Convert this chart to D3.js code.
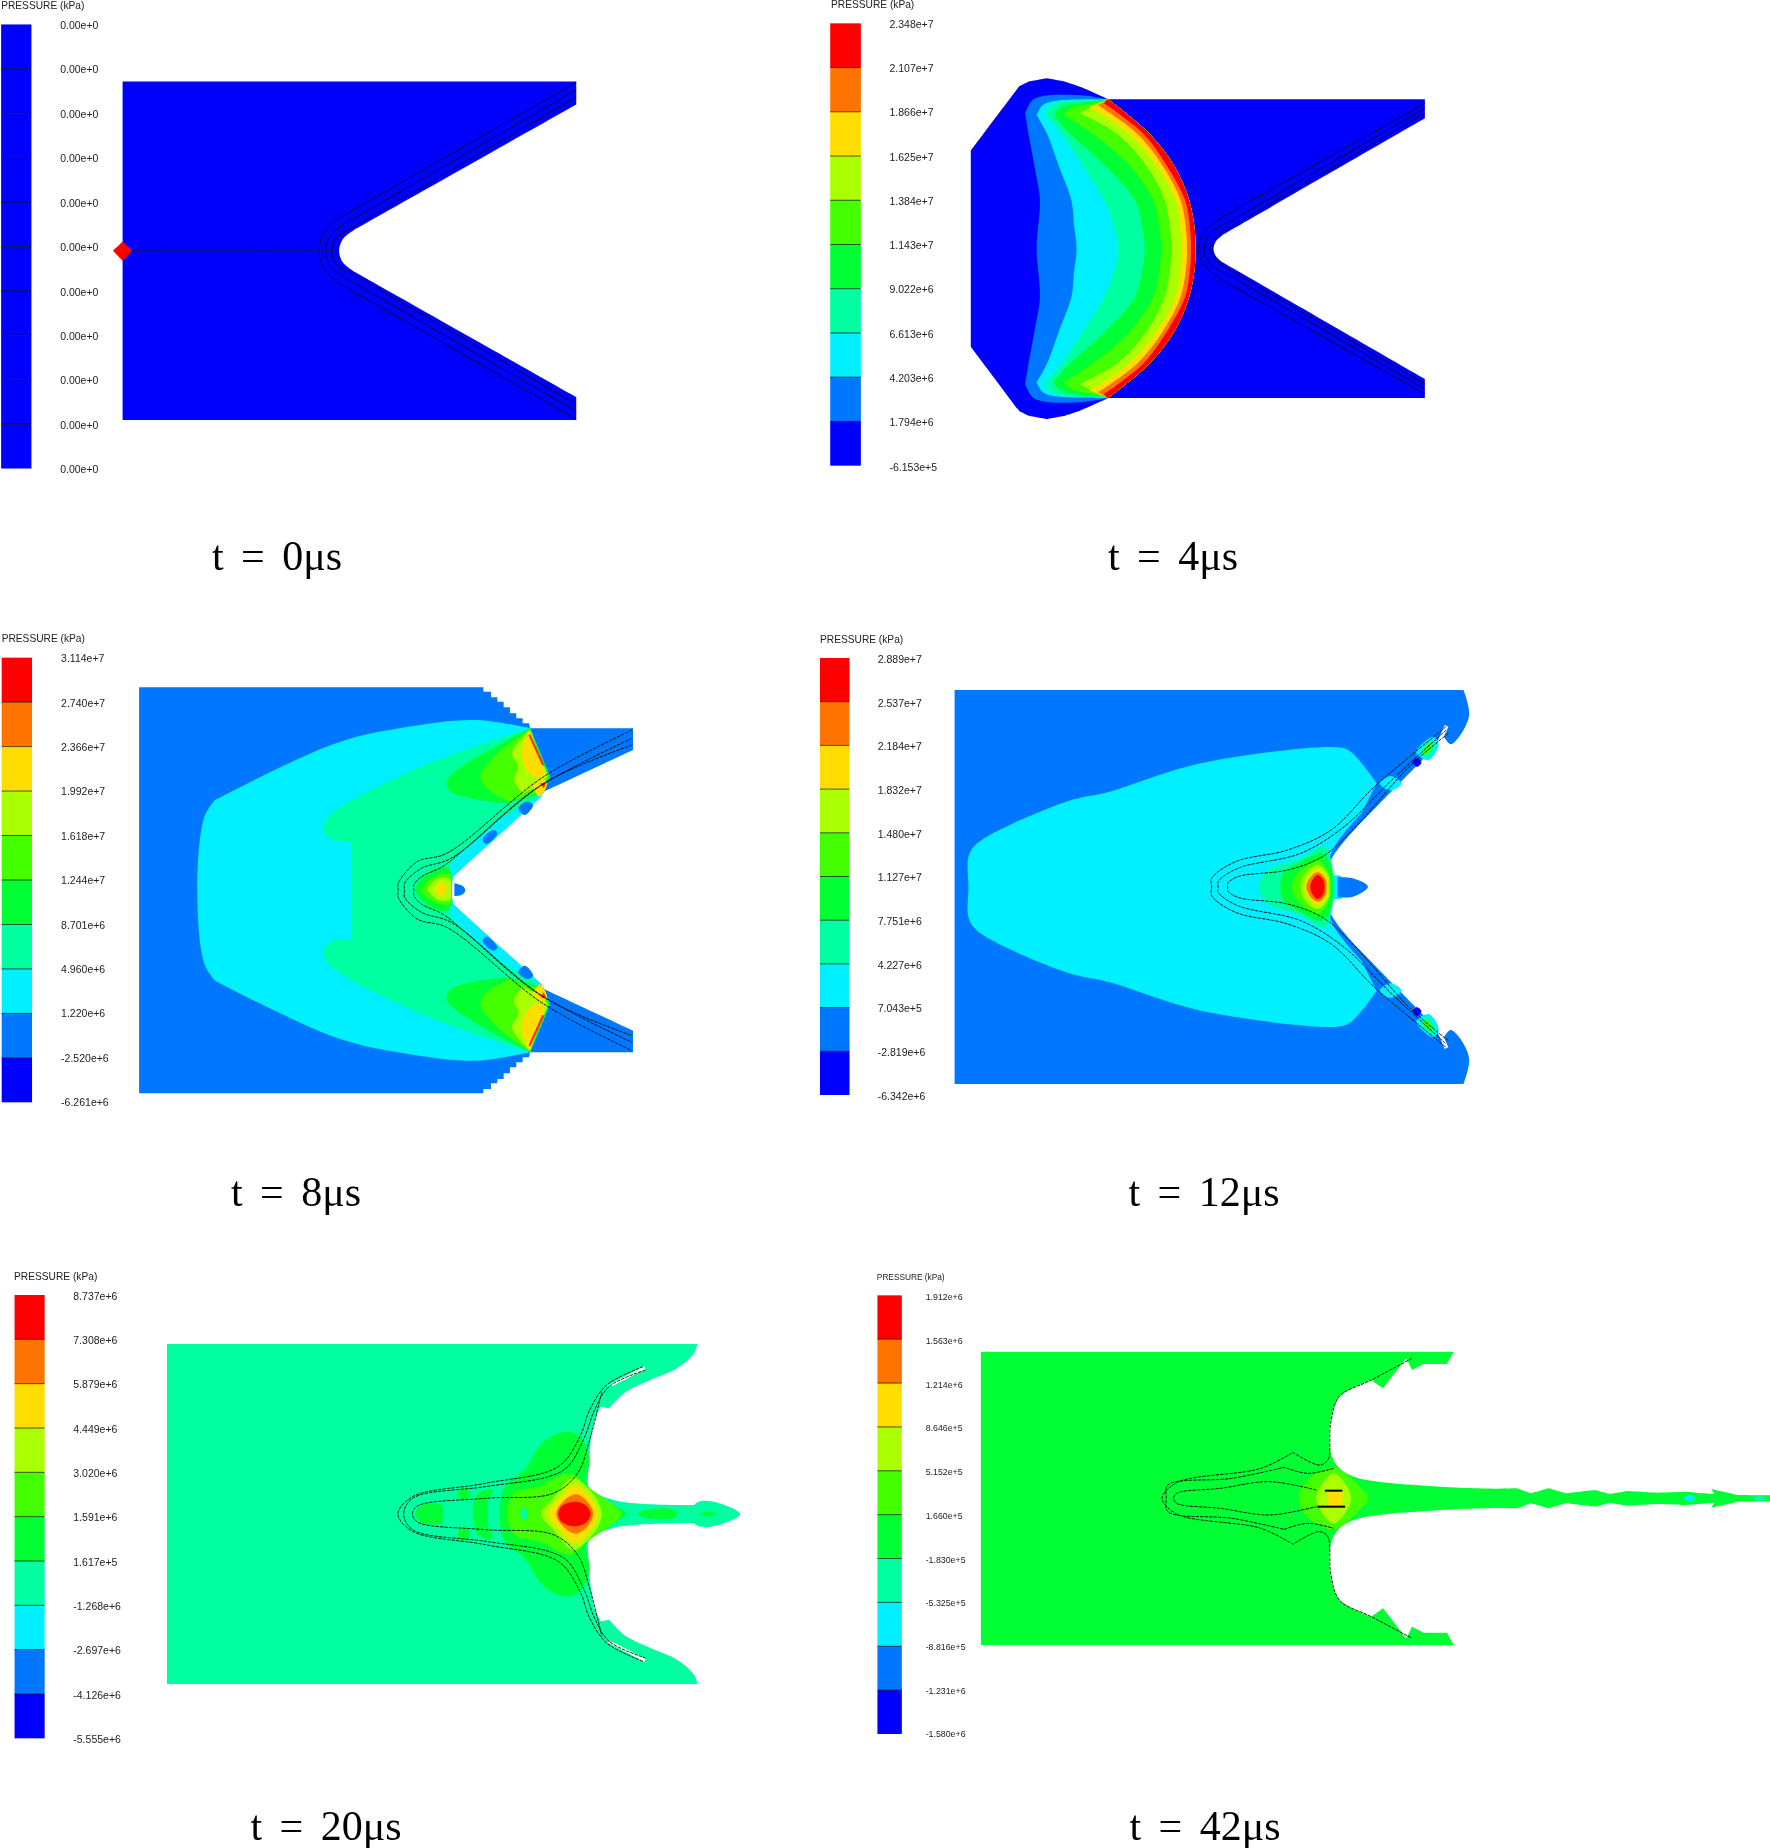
<!DOCTYPE html>
<html><head><meta charset="utf-8">
<script src="https://cdn.jsdelivr.net/npm/d3@7"></script>
<style>html,body{margin:0;background:#fff}svg{display:block}</style></head>
<body><svg id="c" width="1770" height="1848"></svg>
<script>
// Legend bands, top to bottom
const bandColors = ["#ff0000","#ff7300","#ffdd00","#aaff00","#44ff00","#00ff33","#00ffa0","#00f0ff","#0077ff","#0000ff"];
const R=0,O=1,Y=2,L=3,G1=4,G2=5,T=6,C=7,B2=8,B=9;
const labels0  = Array(11).fill("0.00e+0");
const labels4  = ["2.348e+7","2.107e+7","1.866e+7","1.625e+7","1.384e+7","1.143e+7","9.022e+6","6.613e+6","4.203e+6","1.794e+6","-6.153e+5"];
const labels8  = ["3.114e+7","2.740e+7","2.366e+7","1.992e+7","1.618e+7","1.244e+7","8.701e+6","4.960e+6","1.220e+6","-2.520e+6","-6.261e+6"];
const labels12 = ["2.889e+7","2.537e+7","2.184e+7","1.832e+7","1.480e+7","1.127e+7","7.751e+6","4.227e+6","7.043e+5","-2.819e+6","-6.342e+6"];
const labels20 = ["8.737e+6","7.308e+6","5.879e+6","4.449e+6","3.020e+6","1.591e+6","1.617e+5","-1.268e+6","-2.697e+6","-4.126e+6","-5.555e+6"];
const labels42 = ["1.912e+6","1.563e+6","1.214e+6","8.646e+5","5.152e+5","1.660e+5","-1.830e+5","-5.325e+5","-8.816e+5","-1.231e+6","-1.580e+6"];
const captions = ["t = 0μs","t = 4μs","t = 8μs","t = 12μs","t = 20μs","t = 42μs"];
const title = "PRESSURE (kPa)";

// Half contours; [x,y,1] marks a sharp corner
const outer0 = [[320,677],[320,220,1],[1504,220,1],[1504,282,1],[925,620,1],[895,645],[885,677]];
const wires0 = [
 [[1504,222,1],[880,592,1],[845,630],[833,677]],
 [[1504,243,1],[895,607,1],[860,640],[850,677]],
 [[1504,262,1],[908,622,1],[875,645],[866,677]]];
const rod0 = [[320,677,1],[885,677,1]];
const marker0 = [[295,677,1],[320,652,1],[345,677,1],[320,704,1]];

const arc4 = [[705,298,1],[805,400],[868,500],[903,600],[917,690],[918,746]];
const outer4 = [[369,746],[369,452,1],[488,258,1],[510,245,1],[555,235,1],[600,245,1],[640,262],[705,298,1],[1480,298,1],[1480,355,1],[985,705,1],[968,725],[963,746]];
const bands4 = [
 [B2,[[530,746],[538,600],[525,500],[510,400],[502,340,1],[520,300],[550,287],[650,287]]],
 [C,[[628,746],[622,680],[615,600],[585,500],[555,400],[530,345,1],[545,315],[575,303],[690,298]]],
 [T,[[728,746],[720,680],[695,600],[645,500],[590,400],[550,340,1],[575,310],[690,300]]],
 [G2,[[795,746],[788,680],[770,600],[700,500],[610,400],[572,345,1],[590,320],[690,302]]],
 [G1,[[835,746],[830,680],[815,600],[760,500],[665,400],[597,345,1],[615,325],[690,304]]],
 [L,[[860,746],[856,680],[843,600],[800,500],[725,400],[635,340,1],[690,306]]],
 [Y,[[885,746],[882,680],[870,600],[825,500],[755,400],[660,320,1],[692,306]]],
 [O,[[898,746],[895,680],[882,600],[840,500],[775,400],[680,315,1],[695,305]]],
 [R,[[908,746],[905,680],[893,600],[850,500],[790,400],[695,310,1],[700,302]]]];
const wires4 = [
 [[1480,310,1],[1000,640,1],[945,690],[925,746]],
 [[1480,325,1],[1010,660,1],[955,700],[940,746]],
 [[1480,340,1],[1020,670,1],[970,710],[955,746]]];

const outer8 = [[330,811],[330,202,1],[1147,202,1],[1147,215,1],[1165,215,1],[1165,232,1],[1180,232,1],[1180,245,1],[1195,245,1],[1195,262,1],[1210,262,1],[1210,280,1],[1225,280,1],[1225,295,1],[1240,295,1],[1240,310,1],[1255,310,1],[1258,325,1],[1502,325,1],[1502,390,1],[1290,515,1],[1075,770,1],[1070,811]];
const fill8 = [
 [C,[[468,811],[485,590],[510,540,1],[800,368],[980,318],[1130,300],[1258,325,1],[1305,470,1],[1285,530,1],[1075,770,1],[1072,811]]],
 [T,[[835,811],[835,665,1],[790,660],[768,630],[780,590],[1000,440],[1258,325,1],[1300,470,1],[1275,530],[1190,595],[1065,745],[1060,811]]]];
const lobes8 = [
 [B2,[[1230,565],[1250,545],[1265,555],[1245,585]]],
 [B2,[[1145,660],[1170,630],[1180,640],[1155,672]]],
 [G2,[[1258,325,1],[1060,480],[1070,515],[1200,550,1],[1290,520,1],[1305,470,1]]],
 [G1,[[1250,335,1],[1180,400],[1140,470],[1160,510],[1210,545,1],[1290,510,1],[1300,470,1]]],
 [L,[[1255,330,1],[1215,400],[1230,440],[1220,480],[1240,520,1],[1290,490,1],[1300,465,1]]],
 [Y,[[1258,330,1],[1240,380],[1245,440],[1270,472,1],[1296,470,1]]],
 [Y,[[1265,495],[1285,478],[1298,490],[1280,530]]],
 ["#ff3000",[[1258,342,1],[1292,436,1],[1286,436,1],[1254,346,1]]],
 ["#ff3000",[[1282,490,1],[1296,488,1],[1290,505,1]]]];
const nose8 = [
 [B2,[[1078,790,1],[1100,800],[1104,812],[1095,825],[1078,828,1]]],
 [G2,[[985,808],[1020,755],[1065,745],[1072,808],[1065,870],[1020,860]]],
 [G1,[[1000,808],[1030,770],[1068,762],[1072,808],[1068,852],[1030,846]]],
 [L,[[1015,808],[1040,775],[1068,778],[1070,808],[1068,838],[1040,840]]],
 [Y,[[1033,808],[1047,786],[1060,808],[1047,830]]]];
const wires8 = [
 [[1500,330,1],[1290,470],[1060,700],[990,725],[945,790],[945,811]],
 [[1500,355,1],[1280,500],[1070,715],[1000,745],[960,790],[960,811]],
 [[1500,375,1],[1290,490],[1100,690],[1050,740],[1000,770],[982,795],[982,811]]];

const outer12 = [[333,801],[333,210,1],[1505,210,1],[1518,285],[1495,350],[1475,372],[1460,350,1],[1470,320,1],[1462,315,1],[1440,380,1],[1260,620,1],[1200,720],[1190,801]];
const fill12 = [[C,[[365,801],[365,710],[385,670],[590,545],[690,515],[900,430],[1215,382],[1245,395],[1305,490,1],[1270,580,1],[1200,700],[1195,801]]]];
const jet12 = [[C,[[1195,768,1],[1225,770],[1225,835],[1195,835,1]]],[B2,[[1215,772,1],[1250,775],[1285,800],[1250,830],[1215,832,1]]]];
const spots12 = [
 [C,[[1312,490],[1337,468],[1362,490],[1337,512]]],
 [C,[[1396,398],[1435,350],[1448,372],[1425,420]]],
 [T,[[1405,392],[1432,360],[1440,375],[1420,410]]],
 [G1,[[1412,395],[1428,372],[1432,385],[1420,403]]],
 [B,[[1388,428],[1398,414],[1408,428],[1398,440]]]];
const core12 = [
 [T,[[1035,800],[1050,755],[1130,715],[1185,678],[1200,720],[1205,800]]],
 [G2,[[1083,800],[1090,760],[1130,725],[1180,700],[1200,740],[1205,800]]],
 [G1,[[1110,800],[1120,765],[1170,720],[1195,760],[1200,800]]],
 [L,[[1130,800],[1140,760],[1170,735],[1195,770],[1195,800]]],
 [Y,[[1140,800],[1150,770],[1168,745],[1188,770],[1192,800]]],
 [O,[[1143,800],[1155,768],[1170,757],[1188,780],[1189,800]]],
 [R,[[1152,800],[1158,778],[1169,765],[1182,780],[1185,800]]]];
const wires12 = [
 [[1465,320,1],[1300,500],[1200,630],[1100,690],[980,725],[925,775],[925,801]],
 [[1465,330,1],[1340,480],[1230,620],[1130,700],[985,745],[940,785],[940,801]],
 [[1470,340,1],[1380,440],[1250,630],[1180,710],[1100,750],[985,770],[962,790],[962,801]]];

const outer20 = [[344,762],[344,252,1],[1437,252,1],[1430,280],[1395,325],[1340,360],[1290,395],[1255,445,1],[1238,440,1],[1225,480],[1212,640],[1215,685],[1270,722],[1430,735,1],[1440,725],[1470,725],[1525,762]];
const slit20 = [[1250,378,1],[1328,318,1],[1330,328,1],[1262,378,1]];
const core20 = [
 [G2,[[855,762],[870,735],[910,735],[912,762]]],
 [G2,[[975,762],[985,700],[1015,690],[1005,730],[1005,762]]],
 [G2,[[1030,762],[1040,680],[1080,630],[1120,545],[1165,515],[1195,530],[1215,590],[1210,680],[1265,735],[1290,762]]],
 [G1,[[1045,762],[1060,700],[1110,680],[1175,640],[1210,680],[1260,730],[1280,762]]],
 [T,[[1072,762],[1080,742],[1088,762]]],
 [L,[[1115,762],[1140,715],[1180,655],[1215,690],[1240,762]]],
 [Y,[[1130,762],[1150,720],[1185,675],[1215,710],[1232,762]]],
 [O,[[1146,762],[1160,725],[1187,703],[1213,730],[1222,762]]],
 [R,[[1150,762],[1158,737],[1187,725],[1208,737],[1217,762]]],
 [G2,[[1315,762],[1330,750],[1390,750],[1395,762]]],
 [G2,[[1440,762],[1460,755],[1478,762]]]];
const stripes20 = [[G2,[[945,690],[960,683],[968,715],[948,720]]]];
const wires20 = [
 [[1325,320,1],[1250,375],[1215,450],[1195,530],[1150,620],[1000,670],[850,710],[820,762]],
 [[1330,330,1],[1255,380],[1225,450],[1205,530],[1170,620],[1130,650],[1000,680],[850,715],[832,762]],
 [[1240,395,1],[1215,540],[1190,640],[1140,700],[1000,715],[860,738],[850,762]]];

const outer42 = [[208,715],[208,275,1],[1022,275,1],[1010,312,1],[970,312,1],[950,330,1],[940,295,1],[900,385,1],[880,360,1],[825,410],[810,480],[808,560],[820,615],[850,650],[1000,680],[1100,686,1],[1130,685,1],[1155,700,1],[1185,685,1],[1215,700,1],[1265,690,1],[1290,702,1],[1320,693,1],[1370,698,1],[1420,695,1],[1470,702,1],[1465,687,1],[1510,705,1],[1566,706,1],[1566,715,1]];
const core42 = [
 [G1,[[755,715],[770,660],[815,622],[860,680],[875,715]]],
 [L,[[785,715],[800,660],[815,640],[835,670],[845,715]]],
 [Y,[[805,715],[805,690,1],[830,690,1],[830,715]]]];
const spots42 = [[C,[[1418,715],[1428,705],[1438,715],[1428,725]]],[T,[[1538,715],[1548,707],[1558,715],[1548,723]]]];
const wires42 = [
 [[950,295,1],[880,360],[825,410],[810,490],[805,600],[790,615],[745,577,1],[690,625],[545,668],[520,715]],
 [[815,625],[770,640],[730,622,1],[640,655],[530,675],[527,715]],
 [[785,690],[705,665],[620,685],[545,700],[540,715]]];
const bars42 = [[[800,692,1],[830,692,1]],[[787,740,1],[835,740,1]]];

// Panel layout: crop window of the read-off coordinates, legend placement
const svg = d3.select("#c");
const field = svg.append("g").style("filter","blur(0.55px)");
const legends = svg.append("g").style("filter","blur(0.55px)");
const caps = svg.append("g");

const expand = pts => pts.flatMap(p => p[2] ? [p,p] : [p]);
const sym = (pts,a) => pts.concat(pts.slice(1,-1).reverse().map(p=>[p[0],2*a-p[1],p[2]]));
const flip = (pts,a) => pts.map(p=>[p[0],2*a-p[1],p[2]]);
const wireFull = (pts,a) => pts.concat(pts.slice(0,-1).reverse().map(p=>[p[0],2*a-p[1],p[2]]));

function panel(o){
  const x = d3.scaleLinear().domain([0,1566]).range([o.crop[0],o.crop[0]+o.crop[2]]);
  const y = d3.scaleLinear().domain([0,o.yMax]).range([o.crop[1],o.crop[1]+o.crop[3]]);
  const closed = d3.line().x(p=>x(p[0])).y(p=>y(p[1])).curve(d3.curveCatmullRomClosed.alpha(0.5));
  const open = d3.line().x(p=>x(p[0])).y(p=>y(p[1])).curve(d3.curveCatmullRom.alpha(0.5));
  const g = field.append("g");
  const col = c => typeof c==="number" ? bandColors[c] : c;
  o.regions.forEach(([c,pts])=> g.append("path").attr("d",closed(expand(pts))).attr("fill",col(c)));
  o.wires.forEach(pts=> g.append("path").attr("d",open(expand(pts))).attr("fill","none")
     .attr("stroke","#000").attr("stroke-width",0.85).attr("stroke-dasharray","3.5 1"));
  (o.solid||[]).forEach(pts=> g.append("path").attr("d",open(expand(pts))).attr("fill","none")
     .attr("stroke",pts.thick?"#000":"#101070").attr("stroke-width",pts.thick?2:1));
  (o.after||[]).forEach(([c,pts])=> g.append("path").attr("d",closed(expand(pts))).attr("fill",col(c)));

  // legend
  const l = legends.append("g");
  const cell = d3.scaleLinear().domain([0,10]).range([y(o.bar[2]),y(o.bar[3])]);
  l.selectAll("rect").data(d3.range(10)).join("rect")
    .attr("x",x(o.bar[0])).attr("width",x(o.bar[1])-x(o.bar[0]))
    .attr("y",i=>cell(i)).attr("height",i=>cell(i+1)-cell(i))
    .attr("fill",i=>o.allBlue?bandColors[B]:bandColors[i]);
  l.selectAll("line.sep").data(d3.range(1,10)).join("line").attr("class","sep")
    .attr("x1",x(o.bar[0])).attr("x2",x(o.bar[1])).attr("y1",i=>cell(i)).attr("y2",i=>cell(i))
    .attr("stroke","#000").attr("stroke-opacity",.65).attr("stroke-width",1);
  const lab = d3.scaleLinear().domain([0,10]).range([y(o.lab[1]),y(o.lab[2])]);
  const ax = d3.axisRight(lab).tickValues(d3.range(11)).tickSize(0).tickPadding(0).tickFormat(i=>o.labels[i]);
  const ag = l.append("g").attr("transform",`translate(${x(o.lab[0])},0)`).call(ax);
  ag.select(".domain").remove();
  ag.selectAll("text").attr("font-family","Liberation Sans").attr("font-size",o.fs).attr("fill","#222");
  l.append("text").attr("x",x(o.title[0])).attr("y",y(o.title[1])).attr("dy",".36em")
    .attr("font-family","Liberation Sans").attr("font-size",o.tfs||10.2).attr("fill","#222").text(title);

  caps.append("text").attr("x",o.cap[0]).attr("y",o.cap[1]).attr("text-anchor","middle").attr("dy",".33em")
    .attr("font-family","Liberation Serif").attr("font-size",42).attr("word-spacing",7).attr("fill","#000").text(o.caption);
}

const solid42 = bars42.map(b=>{b.thick=true;return b;});

panel({crop:[0,0,600,580],yMax:1566,
  regions:[[B,sym(outer0,677)]],
  wires:wires0.map(w=>wireFull(w,677)),solid:[rod0],after:[["#ff0000",marker0]],
  bar:[3,82,66,1265],lab:[157,68,1267],labels:labels0,allBlue:true,title:[3,14],fs:10.5,cap:[277,556],caption:captions[0]});

panel({crop:[820,0,640,480],yMax:1440,
  regions:[[B,sym(outer4,746)]].concat(bands4.map(([c,p])=>[c,sym(p.concat(arc4),746)])),
  wires:wires4.map(w=>wireFull(w,746)),
  bar:[25,100,70,1397],lab:[170,72,1400],labels:labels4,title:[27,14],fs:10.5,cap:[1173,556],caption:captions[1]});

panel({crop:[0,620,660,500],yMax:1500,
  regions:[[B2,sym(outer8,811)]]
    .concat(fill8.map(([c,p])=>[c,sym(p,811)]))
    .concat(lobes8.flatMap(([c,p])=>[[c,p],[c,flip(p,811)]]))
    .concat(nose8),
  wires:wires8.map(w=>wireFull(w,811)),
  bar:[4,76,113,1447],lab:[145,115,1447],labels:labels8,title:[4,56],fs:10.5,cap:[296,1192],caption:captions[2]});

panel({crop:[810,620,680,500],yMax:1500,
  regions:[[B2,sym(outer12,801)]]
    .concat(fill12.map(([c,p])=>[c,sym(p,801)]))
    .concat(jet12)
    .concat(spots12.flatMap(([c,p])=>[[c,p],[c,flip(p,801)]]))
    .concat(core12.map(([c,p])=>[c,sym(p,801)])),
  wires:wires12.map(w=>wireFull(w,801)),
  bar:[23,91,114,1425],lab:[156,117,1428],labels:labels12,title:[23,57],fs:10.5,cap:[1204,1192],caption:captions[3]});

panel({crop:[0,1260,760,500],yMax:1500,
  regions:[[T,sym(outer20,762)]]
    .concat(stripes20.flatMap(([c,p])=>[[c,p],[c,flip(p,762)]]))
    .concat(core20.map(([c,p])=>[c,sym(p,762)]))
    .concat([["#ffffff",slit20],["#ffffff",flip(slit20,762)]]),
  wires:wires20.map(w=>wireFull(w,762)),
  bar:[30,92,105,1435],lab:[151,108,1437],labels:labels20,title:[29,50],fs:10.5,cap:[326,1826],caption:captions[4]});

panel({crop:[860,1260,910,500],yMax:1500,
  regions:[[G2,sym(outer42,715)]]
    .concat(core42.map(([c,p])=>[c,sym(p,715)]))
    .concat(spots42),
  wires:wires42.map(w=>wireFull(w,715)),solid:solid42,
  bar:[30,72,106,1422],lab:[113,111,1422],labels:labels42,title:[29,51],fs:8.8,tfs:8.3,cap:[1205,1826],caption:captions[5]});
</script></body></html>
